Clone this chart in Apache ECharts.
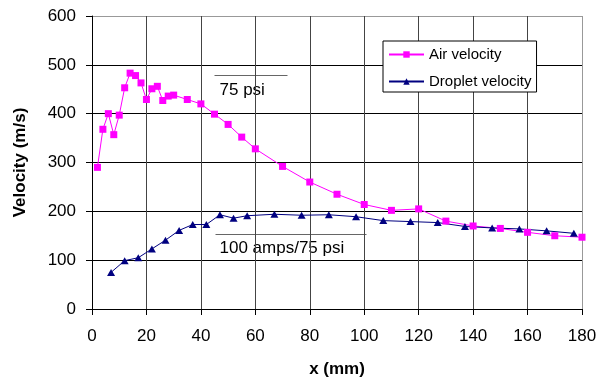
<!DOCTYPE html>
<html>
<head>
<meta charset="utf-8">
<script src="https://cdn.jsdelivr.net/npm/echarts@6/dist/echarts.min.js"></script>
<style>
  html, body { margin: 0; padding: 0; background: #fff; }
  #chart { width: 600px; height: 381px; }
</style>
</head>
<body>
<div id="chart"></div>
<script>
// air velocity, 75 psi
const airX = [2, 4, 6, 8, 10, 12, 14, 16, 18, 20, 22, 24, 26, 28, 30, 35, 40, 45, 50, 55, 60,
  70, 80, 90, 100, 110, 120, 130, 140, 150, 160, 170, 180];
const airV = [290, 368, 400, 357, 397, 453, 483, 478, 463, 429, 451, 456, 427, 436, 438, 429, 420, 399, 378, 352, 328,
  292, 260, 235, 214, 202, 205, 180, 170, 165, 157, 150, 147];

// droplet velocity, 100 amps/75 psi
const dropX = [7, 12, 17, 22, 27, 32, 37, 42, 47, 52, 57, 67, 77, 87, 97, 107, 117, 127, 137, 147, 157, 167, 177];
const dropV = [75, 99, 105, 123, 141, 161, 173, 173, 193, 186, 191, 194, 192, 193, 189, 181, 179, 177, 169, 166, 164, 160, 155];

const xTicks = [0, 20, 40, 60, 80, 100, 120, 140, 160, 180];
const yTicks = [0, 100, 200, 300, 400, 500, 600];

const FONT = '"Liberation Sans", Arial, sans-serif';

const chart = echarts.init(document.getElementById('chart'));

const pairs = (xs, ys) => xs.map((x, i) => [x, ys[i]]);

chart.setOption({
  animation: false,
  backgroundColor: '#fff',
  textStyle: { fontFamily: FONT },
  grid: { left: 92, right: 18, top: 16, bottom: 72, outerBoundsMode: 'none' },
  xAxis: {
    type: 'value',
    min: xTicks[0],
    max: xTicks[xTicks.length - 1],
    interval: 20,
    name: 'x (mm)',
    nameLocation: 'middle',
    nameGap: 52,
    nameTextStyle: { color: '#000', fontSize: 17, fontWeight: 'bold', fontFamily: FONT },
    axisLine: { lineStyle: { color: '#000', width: 1 } },
    axisTick: { show: true, inside: false, length: 6, lineStyle: { color: '#000' } },
    axisLabel: { color: '#000', fontSize: 17, margin: 19, fontFamily: FONT },
    splitLine: {
      show: true,
      lineStyle: {
        color: ['#444', '#444', '#444', '#444', '#444', '#444', '#444', '#444', '#444', '#999'],
        width: 1
      }
    }
  },
  yAxis: {
    type: 'value',
    min: yTicks[0],
    max: yTicks[yTicks.length - 1],
    interval: 100,
    name: 'Velocity (m/s)',
    nameLocation: 'middle',
    nameGap: 63,
    nameTextStyle: { color: '#000', fontSize: 17, fontWeight: 'bold', fontFamily: FONT },
    axisLine: { show: true, lineStyle: { color: '#000', width: 1 } },
    axisTick: { show: true, inside: false, length: 6, lineStyle: { color: '#000' } },
    axisLabel: { color: '#000', fontSize: 17, margin: 16, fontFamily: FONT },
    splitLine: {
      show: true,
      lineStyle: { color: ['#000', '#000', '#000', '#000', '#000', '#000', '#999'], width: 1 }
    }
  },
  legend: {
    orient: 'vertical',
    left: 383,
    top: 41,
    padding: [6, 5, 3, 5],
    itemGap: 12,
    itemWidth: 35,
    itemHeight: 8,
    backgroundColor: '#fff',
    borderColor: '#000',
    borderWidth: 1,
    borderRadius: 0,
    textStyle: { color: '#000', fontSize: 15, lineHeight: 15, fontFamily: FONT },
    data: ['Air velocity', 'Droplet velocity']
  },
  graphic: [
    {
      type: 'group',
      left: 212,
      top: 73,
      z: 50,
      children: [
        { type: 'rect', shape: { x: 0, y: 0, width: 73, height: 31 }, style: { fill: '#fff' } },
        { type: 'line', shape: { x1: 0, y1: 0.5, x2: 73, y2: 0.5 }, style: { stroke: '#666', lineWidth: 1 } },
        { type: 'text', x: 5, y: 15, style: { text: '75 psi', fontSize: 17, fontFamily: FONT, fill: '#000', verticalAlign: 'middle' } }
      ]
    },
    {
      type: 'group',
      left: 213,
      top: 232,
      z: 50,
      children: [
        { type: 'rect', shape: { x: 0, y: 0, width: 151, height: 26 }, style: { fill: '#fff' } },
        { type: 'line', shape: { x1: 0, y1: 0.5, x2: 151, y2: 0.5 }, style: { stroke: '#666', lineWidth: 1 } },
        { type: 'text', x: 4, y: 14, style: { text: '100 amps/75 psi', fontSize: 17, fontFamily: FONT, fill: '#000', verticalAlign: 'middle' } }
      ]
    }
  ],
  series: [
    {
      name: 'Air velocity',
      type: 'line',
      data: pairs(airX, airV),
      symbol: 'rect',
      symbolSize: 7,
      showAllSymbol: true,
      color: '#ff00ff',
      itemStyle: { color: '#ff00ff' },
      lineStyle: { color: '#ff00ff', width: 1 }
    },
    {
      name: 'Droplet velocity',
      type: 'line',
      data: pairs(dropX, dropV),
      symbol: 'triangle',
      symbolSize: [8, 7],
      showAllSymbol: true,
      color: '#000080',
      itemStyle: { color: '#000080' },
      lineStyle: { color: '#000080', width: 1 }
    }
  ]
});
</script>
</body>
</html>
